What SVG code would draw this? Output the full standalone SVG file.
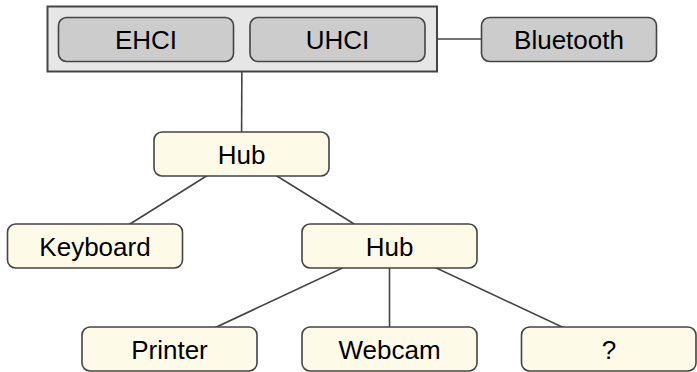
<svg xmlns="http://www.w3.org/2000/svg" width="697" height="372" viewBox="0 0 697 372">
<style>
.edge{stroke:#444;stroke-width:1.6;fill:none}
.ctl{fill:#cccccc;stroke:#444;stroke-width:1.6}
.dev{fill:#fefae8;stroke:#444;stroke-width:1.6}
.outer{fill:#e6e6e6;stroke:#444;stroke-width:2}
text{font-family:"Liberation Sans",Arial,sans-serif;font-size:26px;fill:#000;text-anchor:middle}
</style>
<g id="connectors">
<line class="edge" x1="242" y1="39" x2="241.5" y2="154"/>
<line class="edge" x1="242" y1="39" x2="569" y2="39"/>
<line class="edge" x1="241.5" y1="154" x2="95" y2="246"/>
<line class="edge" x1="241.5" y1="154" x2="389.5" y2="246"/>
<line class="edge" x1="389.5" y1="246" x2="169.5" y2="349"/>
<line class="edge" x1="389.5" y1="246" x2="389.5" y2="349"/>
<line class="edge" x1="389.5" y1="246" x2="609" y2="349"/>
</g>
<g id="host">
<rect class="outer" x="47.5" y="6.5" width="389.5" height="65"/>
</g>
<g id="ehci">
<rect class="ctl" x="58.5" y="17.5" width="175" height="44" rx="8"/>
<text x="146" y="49">EHCI</text>
</g>
<g id="uhci">
<rect class="ctl" x="250" y="17.5" width="175" height="44" rx="8"/>
<text x="337.5" y="49">UHCI</text>
</g>
<g id="bluetooth">
<rect class="ctl" x="481.5" y="17.5" width="175" height="44" rx="8"/>
<text x="569" y="49">Bluetooth</text>
</g>
<g id="hub1">
<rect class="dev" x="154" y="132" width="175" height="44" rx="8"/>
<text x="241.5" y="163.5">Hub</text>
</g>
<g id="keyboard">
<rect class="dev" x="7.5" y="224" width="175" height="44" rx="8"/>
<text x="95" y="255.5">Keyboard</text>
</g>
<g id="hub2">
<rect class="dev" x="302" y="224" width="175" height="44" rx="8"/>
<text x="389.5" y="255.5">Hub</text>
</g>
<g id="printer">
<rect class="dev" x="82" y="327" width="175" height="44" rx="8"/>
<text x="169.5" y="358.5">Printer</text>
</g>
<g id="webcam">
<rect class="dev" x="302" y="327" width="175" height="44" rx="8"/>
<text x="389.5" y="358.5">Webcam</text>
</g>
<g id="unknown">
<rect class="dev" x="521.5" y="327" width="174.5" height="44" rx="8"/>
<text x="609" y="358.5">?</text>
</g>
</svg>
